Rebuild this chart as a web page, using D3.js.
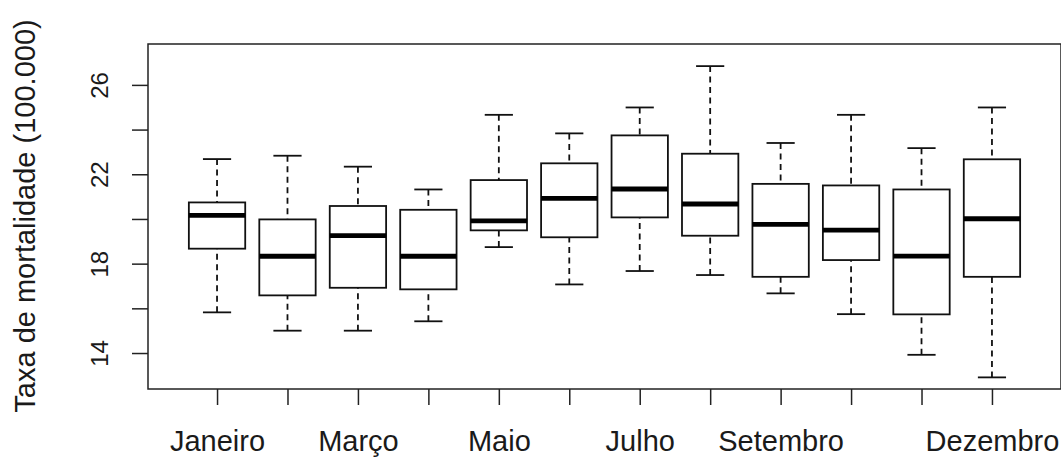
<!DOCTYPE html>
<html>
<head>
<meta charset="utf-8">
<script src="https://cdn.jsdelivr.net/npm/d3@7"></script>
<style>
	body { margin: 0; background: #fff; }
	svg { display: block; font-family: "Liberation Sans", Arial, sans-serif; }
</style>
</head>
<body>
<svg id="chart" width="1061" height="457"></svg>
<script>

// meses (todas as caixas)
var months = ["Janeiro", "Fevereiro", "Março", "Abril", "Maio", "Junho",
	"Julho", "Agosto", "Setembro", "Outubro", "Novembro", "Dezembro"];

// rótulos que aparecem no eixo x (os outros foram omitidos)
var shownLabels = ["Janeiro", "Março", "Maio", "Julho", "Setembro", "Dezembro"];

// estatísticas de cada caixa
var whiskerLow  = [15.82, 15.00, 15.00, 15.42, 18.74, 17.07, 17.67, 17.49, 16.67, 15.74, 13.92, 12.91];
var q1          = [18.67, 16.58, 16.92, 16.85, 19.49, 19.18, 20.07, 19.25, 17.41, 18.16, 15.73, 17.41];
var median      = [20.16, 18.33, 19.25, 18.33, 19.91, 20.92, 21.34, 20.67, 19.76, 19.50, 18.34, 20.01];
var q3          = [20.74, 19.98, 20.58, 20.41, 21.74, 22.49, 23.74, 22.92, 21.57, 21.50, 21.32, 22.67];
var whiskerHigh = [22.68, 22.83, 22.34, 21.32, 24.66, 23.83, 24.99, 26.84, 23.40, 24.66, 23.17, 24.99];

// eixo y
var yTicks = [14, 16, 18, 20, 22, 24, 26];
var yLabels = [14, 18, 22, 26];

var yTitle = "Taxa de mortalidade (100.000)";

var plot = { left: 148, right: 1061, top: 44, bottom: 389 };

var svg = d3.select("#chart");

var x = d3.scaleLinear()
	.domain([0.02, 12.98])
	.range([plot.left, plot.right]);

var y = d3.scaleLinear()
	.domain([12.39, 27.83])
	.range([plot.bottom, plot.top]);

var boxw = 0.4;	// meia largura da caixa
var capw = 0.2;	// meia largura da barra

var boxes = months.map( (m, i) => ({
	i: i + 1,
	lo: whiskerLow[i],
	q1: q1[i],
	med: median[i],
	q3: q3[i],
	hi: whiskerHigh[i]
}));

// caixas
var g = svg.append("g")
	.attr("stroke", "#111")
	.attr("fill", "none");

var b = g.selectAll("g.box")
	.data(boxes)
	.join("g")
	.classed("box", true);

// bigodes tracejados
b.append("line")
	.attr("x1", d => x(d.i)).attr("x2", d => x(d.i))
	.attr("y1", d => y(d.hi)).attr("y2", d => y(d.q3))
	.attr("stroke-width", 1.8)
	.attr("stroke-dasharray", "6,4.5");

b.append("line")
	.attr("x1", d => x(d.i)).attr("x2", d => x(d.i))
	.attr("y1", d => y(d.lo)).attr("y2", d => y(d.q1))
	.attr("stroke-width", 1.8)
	.attr("stroke-dasharray", "6,4.5");

// barras nas pontas
["hi", "lo"].forEach( k => {
	b.append("line")
		.attr("x1", d => x(d.i - capw)).attr("x2", d => x(d.i + capw))
		.attr("y1", d => y(d[k])).attr("y2", d => y(d[k]))
		.attr("stroke-width", 1.8);
});

b.append("rect")
	.attr("x", d => x(d.i - boxw))
	.attr("width", d => x(d.i + boxw) - x(d.i - boxw))
	.attr("y", d => y(d.q3))
	.attr("height", d => y(d.q1) - y(d.q3))
	.attr("fill", "#fff")
	.attr("stroke-width", 1.8);

b.append("line")
	.attr("x1", d => x(d.i - boxw)).attr("x2", d => x(d.i + boxw))
	.attr("y1", d => y(d.med)).attr("y2", d => y(d.med))
	.attr("stroke", "#000")
	.attr("stroke-width", 4.8);

// moldura
svg.append("rect")
	.attr("x", plot.left)
	.attr("y", plot.top)
	.attr("width", plot.right - plot.left)
	.attr("height", plot.bottom - plot.top)
	.attr("fill", "none")
	.attr("stroke", "#222")
	.attr("stroke-width", 1.5);

// eixo x
var xAxis = d3.axisBottom(x)
	.tickValues(d3.range(1, months.length + 1))
	.tickSize(16)
	.tickPadding(25)
	.tickFormat( d => shownLabels.includes(months[d - 1]) ? months[d - 1] : "" );

var xg = svg.append("g")
	.attr("transform", `translate(0,${plot.bottom})`)
	.call(xAxis);

xg.select(".domain").remove();
xg.selectAll(".tick line").attr("stroke", "#222").attr("stroke-width", 1.5);
xg.selectAll(".tick text")
	.attr("font-size", 29)
	.attr("font-family", "Liberation Sans, Arial, sans-serif")
	.attr("fill", "#1a1a1a");

// eixo y
var yAxis = d3.axisLeft(y)
	.tickValues(yTicks)
	.tickSize(16)
	.tickFormat( d => yLabels.includes(d) ? d : "" );

var yg = svg.append("g")
	.attr("transform", `translate(${plot.left},0)`)
	.call(yAxis);

yg.select(".domain").remove();
yg.selectAll(".tick line").attr("stroke", "#222").attr("stroke-width", 1.5);
yg.selectAll(".tick text")
	.attr("x", null)
	.attr("dy", null)
	.attr("transform", "translate(-40,0) rotate(-90)")
	.attr("text-anchor", "middle")
	.attr("font-size", 24)
	.attr("font-family", "Liberation Sans, Arial, sans-serif")
	.attr("fill", "#1a1a1a");

// título do eixo y
svg.append("text")
	.attr("transform", `translate(35,${(15 + 417) / 2}) rotate(-90)`)
	.attr("text-anchor", "middle")
	.attr("font-size", 29)
	.attr("fill", "#1a1a1a")
	.text(yTitle);

</script>
</body>
</html>
